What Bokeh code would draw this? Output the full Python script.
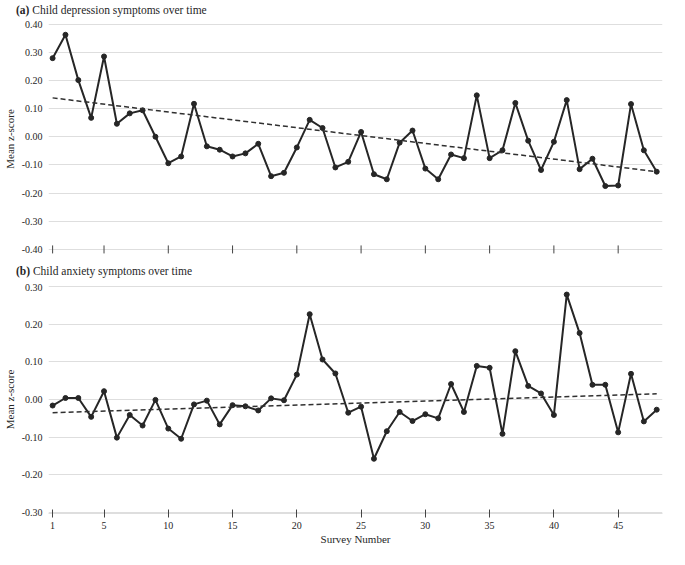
from bokeh.plotting import figure
from bokeh.layouts import column
from bokeh.models import FixedTicker, NumeralTickFormatter, ColumnDataSource, Div
from bokeh.embed import file_html
from bokeh.resources import INLINE

survey = list(range(1, 49))

depression = [0.279, 0.362, 0.201, 0.067, 0.285, 0.046, 0.083, 0.094, 0.000, -0.094,
              -0.070, 0.117, -0.034, -0.046, -0.070, -0.059, -0.025, -0.140, -0.128, -0.038,
              0.060, 0.031, -0.109, -0.089, 0.017, -0.133, -0.151, -0.021, 0.022, -0.113,
              -0.151, -0.063, -0.076, 0.147, -0.076, -0.048, 0.120, -0.014, -0.118, -0.018,
              0.130, -0.115, -0.078, -0.175, -0.173, 0.116, -0.048, -0.124]

anxiety = [-0.016, 0.004, 0.004, -0.046, 0.022, -0.101, -0.041, -0.069, -0.001, -0.077,
           -0.104, -0.013, -0.003, -0.066, -0.015, -0.018, -0.029, 0.003, -0.002, 0.066,
           0.226, 0.106, 0.069, -0.035, -0.019, -0.157, -0.084, -0.033, -0.057, -0.039,
           -0.050, 0.041, -0.033, 0.089, 0.084, -0.091, 0.128, 0.036, 0.016, -0.041,
           0.278, 0.176, 0.039, 0.039, -0.087, 0.068, -0.058, -0.027]

trend_x = [1, 48]
trend_depression = [0.138, -0.124]
trend_anxiety = [-0.035, 0.015]

x_ticks = [1, 5, 10, 15, 20, 25, 30, 35, 40, 45]
y_ticks_a = [-0.4, -0.3, -0.2, -0.1, 0.0, 0.1, 0.2, 0.3, 0.4]
y_ticks_b = [-0.3, -0.2, -0.1, 0.0, 0.1, 0.2, 0.3]

title_a = ("(a)", "Child depression symptoms over time")
title_b = ("(b)", "Child anxiety symptoms over time")
x_label = "Survey Number"
y_label = "Mean z-score"

FONT = "Liberation Serif"
LINE = "#262626"
GRID = "#dedede"
TXT = "#262626"
XR = (0.68, 48.45)


def title_div(t, height, line_height):
    return Div(text=f"<b>{t[0]}</b>&nbsp;{t[1]}", width=669, height=height, margin=(0, 0, 0, 0),
               styles={"font-family": FONT, "font-size": "11.5px", "color": TXT,
                       "line-height": f"{line_height}px", "padding-left": "16px",
                       "white-space": "nowrap"})


def style_common(p, yticks):
    p.outline_line_color = None
    p.background_fill_color = "white"
    p.border_fill_color = "white"
    p.xgrid.grid_line_color = None
    p.ygrid.grid_line_color = GRID
    p.ygrid.grid_line_width = 1
    p.ygrid.ticker = FixedTicker(ticks=yticks)
    yax = p.yaxis[0]
    yax.ticker = FixedTicker(ticks=yticks)
    yax.formatter = NumeralTickFormatter(format="0.00")
    yax.axis_line_color = None
    yax.major_tick_line_color = None
    yax.major_tick_in = 0
    yax.major_tick_out = 0
    yax.minor_tick_line_color = None
    yax.minor_tick_out = 0
    yax.major_label_text_font = FONT
    yax.major_label_text_font_size = "10px"
    yax.major_label_text_color = TXT
    yax.major_label_standoff = 6
    yax.axis_label = y_label
    yax.axis_label_text_font = FONT
    yax.axis_label_text_font_style = "normal"
    yax.axis_label_text_font_size = "11px"
    yax.axis_label_text_color = TXT
    yax.axis_label_standoff = 3


def draw_series(p, values, trend):
    src = ColumnDataSource(dict(x=survey, y=values))
    p.line("x", "y", source=src, line_color=LINE, line_width=2)
    p.scatter("x", "y", source=src, size=5, fill_color=LINE, line_color=LINE)
    p.line(trend_x, trend, line_color="#303030", line_width=1.5, line_dash="5 3")


# ---- panel (a) ----
pa = figure(width=669, height=240, output_backend="svg", toolbar_location=None,
            x_range=XR, y_range=(-0.418, 0.402),
            min_border_left=48, min_border_right=7, min_border_top=4, min_border_bottom=5)
style_common(pa, y_ticks_a)
pa.xaxis.visible = False
tick_half = 0.0142
pa.segment(x0=x_ticks, x1=x_ticks, y0=[-0.40 - tick_half] * len(x_ticks),
           y1=[-0.40 + tick_half] * len(x_ticks), line_color="#444444", line_width=1)
draw_series(pa, depression, trend_depression)

# ---- panel (b) ----
pb = figure(width=669, height=266, output_backend="svg", toolbar_location=None,
            x_range=XR, y_range=(-0.302, 0.302),
            min_border_left=48, min_border_right=7, min_border_top=2, min_border_bottom=36)
style_common(pb, y_ticks_b)
xax = pb.xaxis[0]
xax.ticker = FixedTicker(ticks=x_ticks)
xax.axis_line_color = GRID
xax.major_tick_line_color = "#444444"
xax.major_tick_in = 4
xax.major_tick_out = 4
xax.minor_tick_line_color = None
xax.minor_tick_out = 0
xax.major_label_text_font = FONT
xax.major_label_text_font_size = "10px"
xax.major_label_text_color = TXT
xax.major_label_standoff = 4
xax.axis_label = x_label
xax.axis_label_text_font = FONT
xax.axis_label_text_font_style = "normal"
xax.axis_label_text_font_size = "11px"
xax.axis_label_text_color = TXT
xax.axis_label_standoff = 1
draw_series(pb, anxiety, trend_anxiety)

layout = column(title_div(title_a, 19, 20), pa, title_div(title_b, 24, 24), pb, spacing=0)
open("out.html", "w").write(file_html(layout, INLINE))
